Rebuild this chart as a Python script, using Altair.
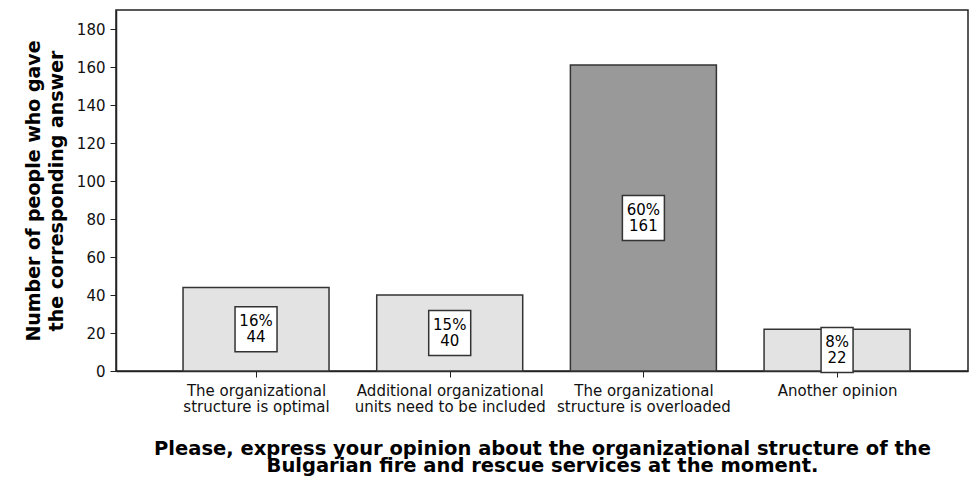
import altair as alt
import pandas as pd

# Survey answers, counts and shares
categories = [
    "The organizational structure is optimal",
    "Additional organizational units need to be included",
    "The organizational structure is overloaded",
    "Another opinion",
]
label_lines = [
    ["The organizational", "structure is optimal"],
    ["Additional organizational", "units need to be included"],
    ["The organizational", "structure is overloaded"],
    ["Another opinion"],
]
counts = [44, 40, 161, 22]
shares = ["16%", "15%", "60%", "8%"]
fills = ["#e3e3e3", "#e3e3e3", "#999999", "#e3e3e3"]

FONT = "DejaVu Sans"
PLOT_W, PLOT_H = 852, 361
X_DOMAIN = [-0.723, 3.676]
Y_DOMAIN = [0, 190]
PX_PER_X = PLOT_W / (X_DOMAIN[1] - X_DOMAIN[0])
PX_PER_Y = PLOT_H / (Y_DOMAIN[1] - Y_DOMAIN[0])
BAR_HALF = 73 / PX_PER_X
BOX_HALF_H = 22.5 / PX_PER_Y

df = pd.DataFrame({
    "idx": list(range(len(categories))),
    "category": categories,
    "count": counts,
    "share": shares,
    "fill": fills,
})
df["label"] = df["share"] + "\n" + df["count"].astype(str)

label_expr = "[" + ",".join(
    "[" + ",".join(f"'{s}'" for s in lines) + "]" for lines in label_lines
) + "][datum.value]"

x_scale = alt.Scale(domain=X_DOMAIN, nice=False, zero=False)
y_scale = alt.Scale(domain=Y_DOMAIN, nice=False)

base = alt.Chart(df).transform_calculate(
    x0=f"datum.idx - {BAR_HALF}",
    x1=f"datum.idx + {BAR_HALF}",
    mid="datum.count / 2",
    bx0=f"datum.idx - (length(datum.share) * 10 + 12) / 2 / {PX_PER_X}",
    bx1=f"datum.idx + (length(datum.share) * 10 + 12) / 2 / {PX_PER_X}",
    by0=f"datum.count / 2 - {BOX_HALF_H}",
    by1=f"datum.count / 2 + {BOX_HALF_H}",
)

bars = base.mark_rect(stroke="#333333", strokeWidth=1.5).encode(
    x=alt.X(
        "x0:Q",
        scale=x_scale,
        axis=alt.Axis(
            values=[0, 1, 2, 3],
            labelExpr=label_expr,
            grid=False,
            tickSize=6,
            tickColor="#222222",
            domainColor="#222222",
            domainWidth=1.5,
            labelFont=FONT,
            labelFontSize=15,
            labelColor="#111111",
            labelPadding=6,
            labelLineHeight=16,
            labelBaseline="top",
            labelLimit=0,
            title=[
                "Please, express your opinion about the organizational structure of the",
                "Bulgarian fire and rescue services at the moment.",
            ],
            titleFont=FONT,
            titleFontSize=19.5,
            titleFontWeight="bold",
            titleColor="#000000",
            titlePadding=25,
            titleLineHeight=17,
        ),
    ),
    x2="x1:Q",
    y=alt.Y(
        "count:Q",
        scale=y_scale,
        axis=alt.Axis(
            values=list(range(0, 181, 20)),
            grid=False,
            tickSize=6,
            tickColor="#222222",
            domainColor="#222222",
            domainWidth=1.5,
            labelFont=FONT,
            labelFontSize=15,
            labelColor="#111111",
            labelPadding=5,
            title=["Number of people who gave", "the corresponding answer"],
            titleFont=FONT,
            titleFontSize=19,
            titleFontWeight="bold",
            titleColor="#000000",
            titlePadding=10,
            titleLineHeight=23,
        ),
    ),
    y2=alt.datum(0),
    fill=alt.Fill("fill:N", scale=None),
)

boxes = base.mark_rect(fill="white", stroke="#333333", strokeWidth=1.5).encode(
    x=alt.X("bx0:Q", scale=x_scale),
    x2="bx1:Q",
    y=alt.Y("by0:Q", scale=y_scale),
    y2="by1:Q",
)

labels = base.mark_text(
    font=FONT, fontSize=15, lineBreak="\n", lineHeight=16, dy=-8,
    baseline="middle", align="center", color="#000000",
).encode(
    x=alt.X("idx:Q", scale=x_scale),
    y=alt.Y("mid:Q", scale=y_scale),
    text="label:N",
)

chart = (
    alt.layer(bars, boxes, labels)
    .properties(
        width=PLOT_W,
        height=PLOT_H,
        autosize=alt.AutoSizeParams(type="none"),
        padding={"left": 116, "top": 10, "right": 10, "bottom": 115},
        background="white",
    )
    .configure_view(stroke="#222222", strokeWidth=1.5)
)

chart.save("out.html", embed_options={"renderer": "svg", "actions": False})
